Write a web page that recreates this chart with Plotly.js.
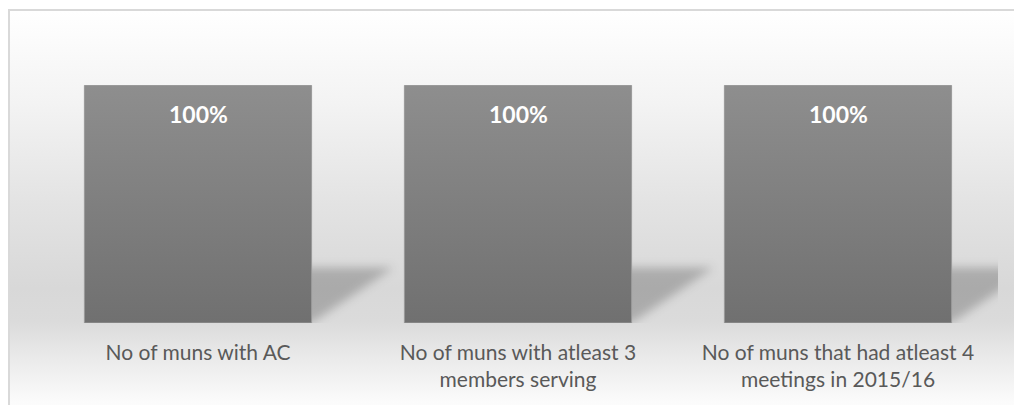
<!DOCTYPE html>
<html>
<head>
<meta charset="utf-8">
<script src="https://cdn.plot.ly/plotly-3.0.1.min.js"></script>
<style>
  html, body { margin: 0; padding: 0; background: #ffffff; overflow: hidden; }
  #wrap { position: relative; width: 1014px; height: 405px; overflow: hidden; }
  #frame {
    position: absolute; left: 8px; top: 9px; width: 1030px; height: 420px;
    border-left: 2px solid #d9d9d9; border-top: 2px solid #d9d9d9;
    background: linear-gradient(to bottom,
      #ffffff 0%, #f3f3f3 22%, #e3e3e3 46%, #d8d8d8 66%,
      #dbdbdb 74%, #e9e9e9 82%, #fbfbfb 93%, #ffffff 100%);
  }
  #chart { position: absolute; left: 0; top: 0; width: 1014px; height: 405px; }
</style>
</head>
<body>
<div id="wrap">
  <div id="frame"></div>
  <div id="chart"></div>
</div>
<script>
// ---- data ----
const categories = [
  "No of muns with AC",
  "No of muns with atleast 3<br>members serving",
  "No of muns that had atleast 4<br>meetings in 2015/16"
];
const values = [1.0, 1.0, 1.0];
const valueLabels = ["100%", "100%", "100%"];

// ---- style ----
const barGap = 0.29;
const halfW = (1 - barGap) / 2;
const shadowReach = 0.256;   // in category units
const shadowHeight = 0.234;  // fraction of bar value

const trace = {
  type: "bar",
  x: categories,
  y: values,
  marker: { color: "#808080", line: { color: "#9a9a9a", width: 1 } },
  hoverinfo: "skip",
  showlegend: false
};

const annotations = categories.map((c, i) => ({
  x: c, y: values[i], xref: "x", yref: "y",
  text: valueLabels[i], showarrow: false,
  yanchor: "middle", yshift: -28,
  font: { family: "Lato, 'Open Sans', sans-serif", size: 23, color: "#ffffff", weight: "bold" }
}));

const shapes = values.map((v, i) => {
  const xr = i + halfW;
  const yt = v * shadowHeight;
  return {
    type: "path", xref: "x", yref: "y", layer: "below",
    path: `M ${xr - 0.08},0.0 L ${xr},0.0 L ${xr + shadowReach},${yt} L ${xr - 0.08},${yt} Z`,
    fillcolor: "rgba(0,0,0,0.21)", line: { width: 0 }
  };
});

const layout = {
  width: 1014, height: 405,
  margin: { l: 38, r: 16, t: 38, b: 82, autoexpand: false },
  paper_bgcolor: "rgba(0,0,0,0)",
  plot_bgcolor: "rgba(0,0,0,0)",
  bargap: barGap,
  xaxis: {
    type: "category", range: [-0.5, categories.length - 0.5],
    showgrid: false, zeroline: false, showline: false,
    automargin: false,
    ticks: "", ticklabelstandoff: 15,
    tickfont: { family: "Lato, 'Open Sans', sans-serif", size: 21, color: "#595959" },
    fixedrange: true
  },
  yaxis: { range: [0, 1.2], visible: false, fixedrange: true, automargin: false },
  annotations: annotations,
  shapes: shapes,
  showlegend: false
};

Plotly.newPlot("chart", [trace], layout, { displayModeBar: false, staticPlot: true }).then(gd => {
  const svg = gd.querySelector("svg.main-svg");
  const NS = "http://www.w3.org/2000/svg";
  let defs = svg.querySelector("defs");
  if (!defs) { defs = document.createElementNS(NS, "defs"); svg.insertBefore(defs, svg.firstChild); }
  const grad = document.createElementNS(NS, "linearGradient");
  grad.setAttribute("id", "barGrad");
  grad.setAttribute("x1", "0"); grad.setAttribute("y1", "0");
  grad.setAttribute("x2", "0"); grad.setAttribute("y2", "1");
  [["0", "#8e8e8e"], ["1", "#707070"]].forEach(([o, c]) => {
    const s = document.createElementNS(NS, "stop");
    s.setAttribute("offset", o); s.setAttribute("stop-color", c);
    grad.appendChild(s);
  });
  defs.appendChild(grad);
  const filt = document.createElementNS(NS, "filter");
  filt.setAttribute("id", "shBlur");
  filt.setAttribute("x", "-50%"); filt.setAttribute("y", "-50%");
  filt.setAttribute("width", "200%"); filt.setAttribute("height", "200%");
  const blur = document.createElementNS(NS, "feGaussianBlur");
  blur.setAttribute("stdDeviation", "5");
  filt.appendChild(blur);
  defs.appendChild(filt);
  gd.querySelectorAll(".bars .point path").forEach(p => { p.style.fill = "url(#barGrad)"; });
  gd.querySelectorAll(".shapelayer path").forEach(p => { p.setAttribute("filter", "url(#shBlur)"); });
});
</script>
</body>
</html>
